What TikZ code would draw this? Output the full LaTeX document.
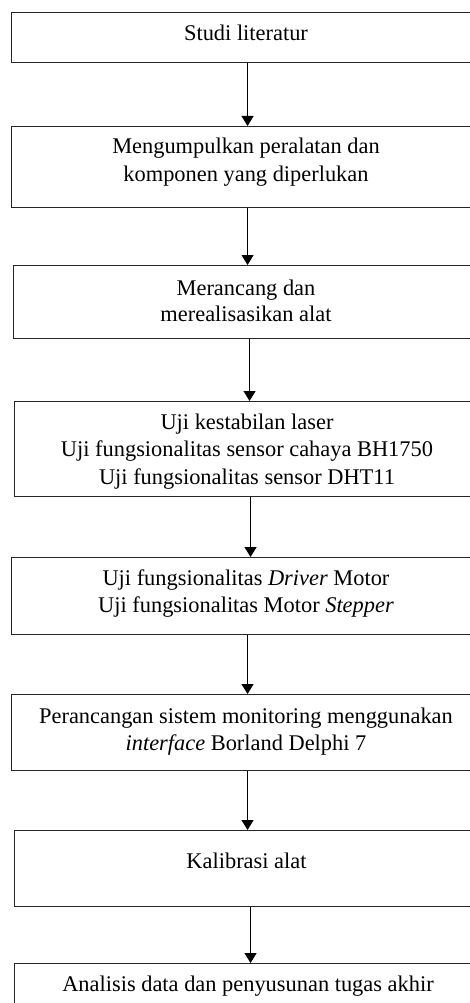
\documentclass[tikz,border=0pt]{standalone}
\usepackage{fontspec}
\setmainfont{Liberation Serif}
\usetikzlibrary{arrows.meta}
\begin{document}
\begin{tikzpicture}[x=1pt,y=-1pt,
  box/.style={draw=black!85, line width=1.1pt, rectangle, inner sep=0pt, minimum width=472pt, anchor=north west},
  txt/.style={anchor=base, inner sep=0pt, font=\fontsize{22.4}{28}\selectfont},
  arr/.style={draw=black, line width=1pt, -{Triangle[width=12pt,length=10pt]}}]
\clip (0,0) rectangle (470,1003);
\fill[white] (0,0) rectangle (470,1003);
% boxes
\node[box, minimum height=50pt] (b1) at (11,12) {};
\node[box, minimum height=81pt] (b2) at (11,126) {};
\node[box, minimum height=73pt] (b3) at (13,265) {};
\node[box, minimum height=95pt] (b4) at (14,401) {};
\node[box, minimum height=77pt] (b5) at (11,557) {};
\node[box, minimum height=76pt] (b6) at (11,694) {};
\node[box, minimum height=76pt] (b7) at (14,830) {};
\node[box, minimum height=60pt] (b8) at (14,963) {};
% texts
\node[txt] (t1) at (246,40.7) {Studi literatur};
\node[txt] (t2a) at (246,154) {Mengumpulkan peralatan dan};
\node[txt] (t2b) at (246,181.7) {komponen yang diperlukan};
\node[txt] (t3a) at (246,295) {Merancang dan};
\node[txt] (t3b) at (246,321.7) {merealisasikan alat};
\node[txt] (t4a) at (247,429) {Uji kestabilan laser};
\node[txt] (t4b) at (247,456.7) {Uji fungsionalitas sensor cahaya BH1750};
\node[txt] (t4c) at (247,484.3) {Uji fungsionalitas sensor DHT11};
\node[txt] (t5a) at (246,585) {Uji fungsionalitas \textit{Driver} Motor};
\node[txt] (t5b) at (246,612.7) {Uji fungsionalitas Motor \textit{Stepper}};
\node[txt] (t6a) at (246,723) {Perancangan sistem monitoring menggunakan};
\node[txt] (t6b) at (246,750.3) {\textit{interface} Borland Delphi 7};
\node[txt] (t7) at (246.5,868) {Kalibrasi alat};
\node[txt] (t8) at (248,991.3) {Analisis data dan penyusunan tugas akhir};
% arrows
\draw[arr] (b1.south) -- (b1.south |- b2.north);
\draw[arr] (b2.south) -- (b2.south |- b3.north);
\draw[arr] (b3.south) -- (b3.south |- b4.north);
\draw[arr] (b4.south) -- (b4.south |- b5.north);
\draw[arr] (b5.south) -- (b5.south |- b6.north);
\draw[arr] (b6.south) -- (b6.south |- b7.north);
\draw[arr] (b7.south) -- (b7.south |- b8.north);
\end{tikzpicture}
\end{document}
